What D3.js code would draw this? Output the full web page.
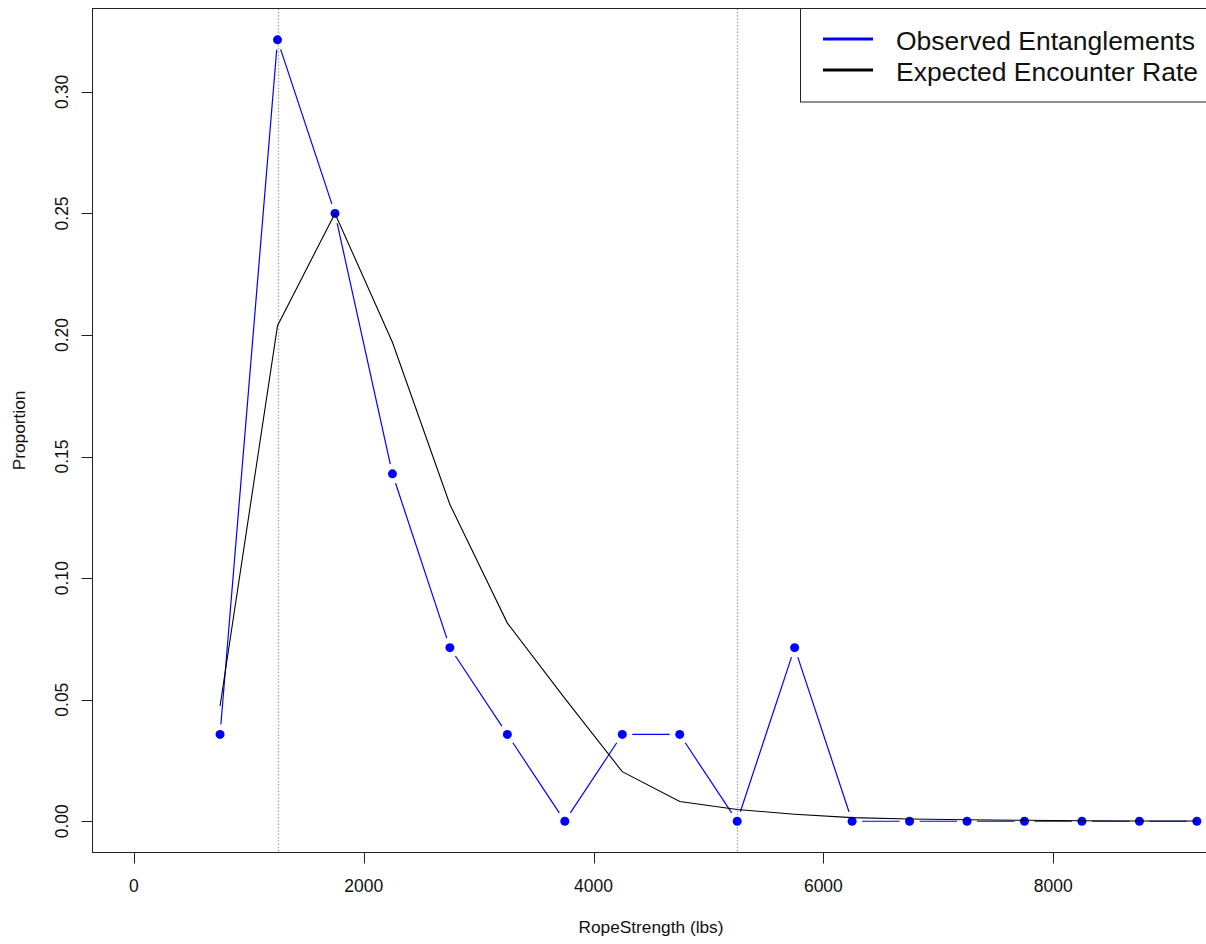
<!DOCTYPE html>
<html>
<head>
<meta charset="utf-8">
<script src="https://cdn.jsdelivr.net/npm/d3@7"></script>
<style>
  html, body { margin: 0; padding: 0; background: #fff; }
  svg { display: block; font-family: "Liberation Sans", Arial, Helvetica, sans-serif; }
</style>
</head>
<body>
<svg id="chart" width="1206" height="944"></svg>
<script>
// Rope strength bins (lbs, bin midpoints)
const strength = [750, 1250, 1750, 2250, 2750, 3250, 3750, 4250, 4750,
                  5250, 5750, 6250, 6750, 7250, 7750, 8250, 8750, 9250];
// Proportion of observed entanglements per bin
const observed = [0.0357, 0.3214, 0.25, 0.1429, 0.0714, 0.0357, 0, 0.0357, 0.0357,
                  0, 0.0714, 0, 0, 0, 0, 0, 0, 0];
// Expected encounter rate per bin
const expected = [0.0474, 0.2038, 0.25, 0.197, 0.1303, 0.0815, 0.0505, 0.0204, 0.0081,
                  0.0048, 0.0029, 0.0015, 0.0009, 0.0006, 0.0004, 0.0002, 0.0001, 0.0001];
// Reference lines
const refLines = [1250, 5250];
// Axis ticks
const xTicks = [0, 2000, 4000, 6000, 8000];
const yTicks = [0, 0.05, 0.10, 0.15, 0.20, 0.25, 0.30];
const seriesNames = ["Observed Entanglements", "Expected Encounter Rate"];
const seriesColors = ["#0000ff", "#000000"];

const svg = d3.select("#chart");
const pLeft = 92.5, pTop = 8.5, pBottom = 852.5, pRight = 1209.5;

const x = d3.scaleLinear().domain([-360, 9360]).range([pLeft, pRight]);
const y = d3.scaleLinear().domain([-0.01286, 0.33429]).range([pBottom, pTop]);

// reference lines (dotted)
svg.append("g").selectAll("line").data(refLines).join("line")
  .attr("x1", d => Math.round(x(d)) + 0.5).attr("x2", d => Math.round(x(d)) + 0.5)
  .attr("y1", pTop).attr("y2", pBottom)
  .attr("stroke", "#a3a3a3").attr("stroke-width", 1.3)
  .attr("stroke-dasharray", "1.5,1.8");

// observed: points with gapped connecting segments
const pts = strength.map((s, i) => [x(s), y(observed[i])]);
const gap = 10;
const segs = [];
for (let i = 0; i < pts.length - 1; i++) {
  const [x0, y0] = pts[i], [x1, y1] = pts[i + 1];
  const len = Math.hypot(x1 - x0, y1 - y0);
  if (len <= 2 * gap) continue;
  const ux = (x1 - x0) / len, uy = (y1 - y0) / len;
  segs.push([x0 + ux * gap, y0 + uy * gap, x1 - ux * gap, y1 - uy * gap]);
}
svg.append("g").selectAll("line").data(segs).join("line")
  .attr("x1", d => d[0]).attr("y1", d => d[1])
  .attr("x2", d => d[2]).attr("y2", d => d[3])
  .attr("stroke", seriesColors[0]).attr("stroke-width", 1.2);
svg.append("g").selectAll("circle").data(pts).join("circle")
  .attr("cx", d => d[0]).attr("cy", d => d[1]).attr("r", 4.5)
  .attr("fill", seriesColors[0]);

// expected encounter rate line
const line = d3.line().x((d, i) => x(strength[i])).y(d => y(d));
svg.append("path").datum(expected)
  .attr("d", line).attr("fill", "none")
  .attr("stroke", seriesColors[1]).attr("stroke-width", 1.1);

// plot frame
svg.append("rect")
  .attr("x", pLeft).attr("y", pTop)
  .attr("width", pRight - pLeft).attr("height", pBottom - pTop)
  .attr("fill", "none").attr("stroke", "#222").attr("stroke-width", 1);

// x axis
const xAxis = svg.append("g");
xAxis.selectAll("line").data(xTicks).join("line")
  .attr("x1", d => Math.round(x(d)) + 0.5).attr("x2", d => Math.round(x(d)) + 0.5)
  .attr("y1", pBottom).attr("y2", pBottom + 11)
  .attr("stroke", "#222");
xAxis.selectAll("text").data(xTicks).join("text")
  .attr("x", d => x(d)).attr("y", 892)
  .attr("text-anchor", "middle").attr("font-size", 17.5).attr("fill", "#111")
  .text(d => d3.format("d")(d));

// y axis
const yAxis = svg.append("g");
yAxis.selectAll("line").data(yTicks).join("line")
  .attr("x1", pLeft - 11).attr("x2", pLeft)
  .attr("y1", d => Math.round(y(d)) + 0.5).attr("y2", d => Math.round(y(d)) + 0.5)
  .attr("stroke", "#222");
yAxis.selectAll("text").data(yTicks).join("text")
  .attr("transform", d => `translate(68,${y(d)}) rotate(-90)`)
  .attr("text-anchor", "middle").attr("font-size", 17.5).attr("fill", "#111")
  .text(d => d3.format(".2f")(d));

// axis titles
svg.append("text")
  .attr("x", (pLeft + pRight) / 2).attr("y", 933)
  .attr("text-anchor", "middle").attr("font-size", 17.3).attr("fill", "#111")
  .text("RopeStrength (lbs)");
svg.append("text")
  .attr("transform", `translate(25,${(pTop + pBottom) / 2}) rotate(-90)`)
  .attr("text-anchor", "middle").attr("font-size", 17.3).attr("fill", "#111")
  .text("Proportion");

// legend
const legend = svg.append("g");
legend.append("rect")
  .attr("x", 800.5).attr("y", pTop).attr("width", 460).attr("height", 93.5)
  .attr("fill", "#fff").attr("stroke", "#222");
const legY = [39, 70];
legend.selectAll("line.key").data(seriesNames).join("line")
  .attr("class", "key")
  .attr("x1", 823).attr("x2", 873)
  .attr("y1", (d, i) => legY[i]).attr("y2", (d, i) => legY[i])
  .attr("stroke", (d, i) => seriesColors[i]).attr("stroke-width", 2.8);
legend.selectAll("text").data(seriesNames).join("text")
  .attr("x", 896).attr("y", (d, i) => legY[i] + 11)
  .attr("font-size", 26.5).attr("fill", "#111")
  .text(d => d);
</script>
</body>
</html>
